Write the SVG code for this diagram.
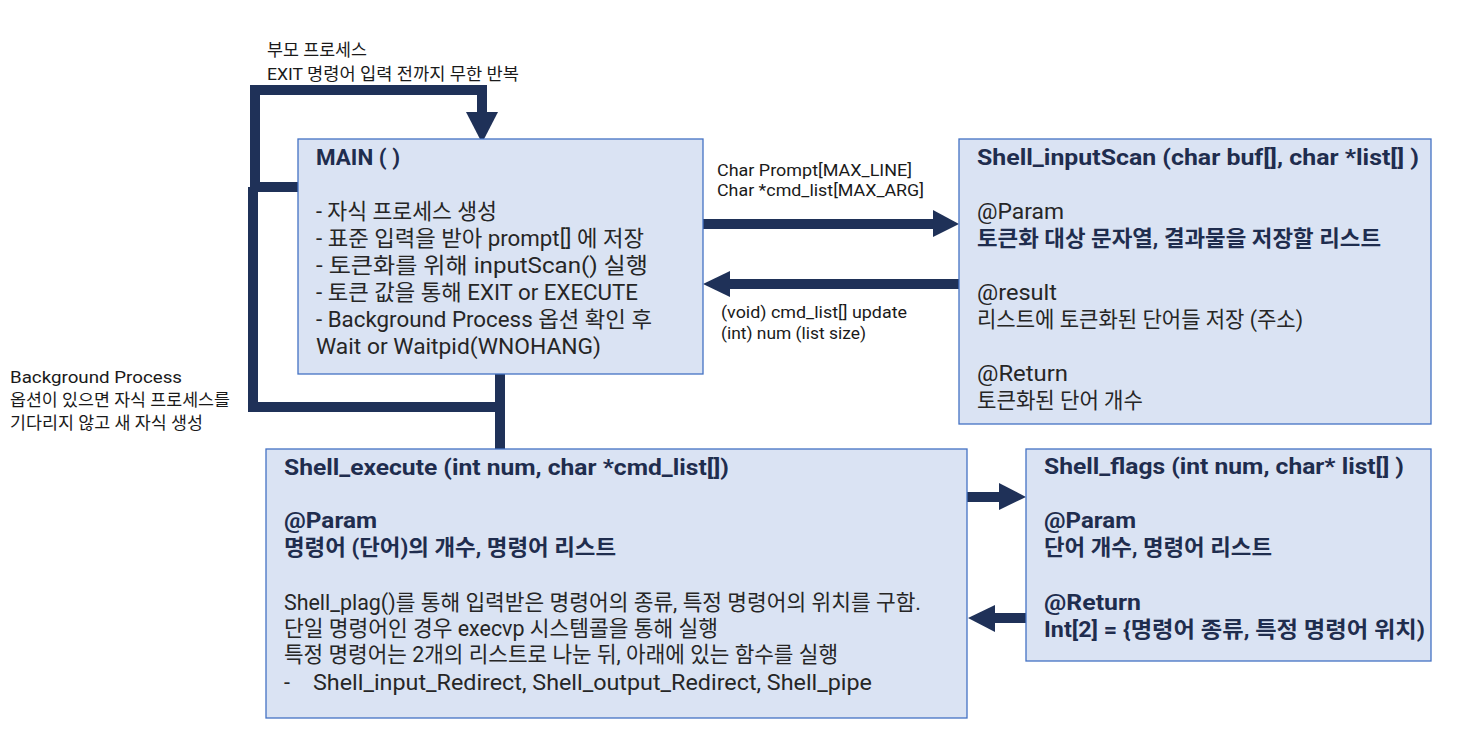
<svg xmlns="http://www.w3.org/2000/svg" width="1463" height="741" viewBox="0 0 1463 741">
<style>
text{font-family:Roboto,"Noto Sans CJK KR",sans-serif;fill:#262626}
.box{fill:#dae3f3;stroke:#4472c4;stroke-width:1.3}
.t{font-size:21.5px}
.b{font-weight:bold;fill:#1f2d4e}
.l{font-size:17px;fill:#1a1a1a}
.c{fill:none;stroke:#1f3158;stroke-width:10}
.h{fill:#1f3158}
</style>
<rect width="1463" height="741" fill="#ffffff"/>
<g id="connectors">
<polyline class="c" points="298,187 255,187 255,90 482,90 482,115"/>
<polygon class="h" points="466,112 498,112 482,143"/>
<polyline class="c" points="500,374 500,407 253,407 253,187"/>
<line class="c" x1="500" y1="407" x2="500" y2="449"/>
<line class="c" x1="703" y1="224" x2="935" y2="224"/>
<polygon class="h" points="933,210 959,224 933,237"/>
<line class="c" x1="959" y1="284" x2="728" y2="284"/>
<polygon class="h" points="730,271 703,284 730,297"/>
<line class="c" x1="967" y1="497" x2="1001" y2="497"/>
<polygon class="h" points="999,483 1026,497 999,510"/>
<line class="c" x1="1026" y1="618" x2="993" y2="618"/>
<polygon class="h" points="995,605 968,618 995,632"/>
</g>
<g id="labels">
<text class="l"><tspan x="267" y="56" textLength="100" lengthAdjust="spacingAndGlyphs">부모 프로세스</tspan><tspan x="267" y="80" textLength="252" lengthAdjust="spacingAndGlyphs">EXIT 명령어 입력 전까지 무한 반복</tspan></text>
<text class="l"><tspan x="717" y="176" textLength="195" lengthAdjust="spacingAndGlyphs">Char Prompt[MAX_LINE]</tspan><tspan x="717" y="196" textLength="207" lengthAdjust="spacingAndGlyphs">Char *cmd_list[MAX_ARG]</tspan></text>
<text class="l"><tspan x="721" y="318" textLength="186" lengthAdjust="spacingAndGlyphs">(void) cmd_list[] update</tspan><tspan x="721" y="339" textLength="145" lengthAdjust="spacingAndGlyphs">(int) num (list size)</tspan></text>
<text class="l"><tspan x="10" y="383" textLength="172" lengthAdjust="spacingAndGlyphs">Background Process</tspan><tspan x="10" y="406" textLength="220" lengthAdjust="spacingAndGlyphs">옵션이 있으면 자식 프로세스를</tspan><tspan x="10" y="429" textLength="193" lengthAdjust="spacingAndGlyphs">기다리지 않고 새 자식 생성</tspan></text>
</g>
<g id="main">
<rect class="box" x="298" y="139" width="405" height="235"/>
<text class="t"><tspan class="b" x="316" y="165" textLength="84" lengthAdjust="spacingAndGlyphs">MAIN ( )</tspan><tspan x="316" y="219" textLength="181" lengthAdjust="spacingAndGlyphs">- 자식 프로세스 생성</tspan><tspan x="316" y="246" textLength="328" lengthAdjust="spacingAndGlyphs">- 표준 입력을 받아 prompt[] 에 저장</tspan><tspan x="316" y="273" textLength="332" lengthAdjust="spacingAndGlyphs">- 토큰화를 위해 inputScan() 실행</tspan><tspan x="316" y="300" textLength="322" lengthAdjust="spacingAndGlyphs">- 토큰 값을 통해 EXIT or EXECUTE</tspan><tspan x="316" y="327" textLength="336" lengthAdjust="spacingAndGlyphs">- Background Process 옵션 확인 후</tspan><tspan x="316" y="354" textLength="285" lengthAdjust="spacingAndGlyphs">Wait or Waitpid(WNOHANG)</tspan></text>
</g>
<g id="inputScan">
<rect class="box" x="959" y="139" width="472" height="285"/>
<text class="t"><tspan class="b" x="977" y="165" textLength="442" lengthAdjust="spacingAndGlyphs">Shell_inputScan (char buf[], char *list[] )</tspan><tspan x="977" y="219" textLength="87" lengthAdjust="spacingAndGlyphs">@Param</tspan><tspan class="b" x="977" y="246" textLength="404" lengthAdjust="spacingAndGlyphs">토큰화 대상 문자열, 결과물을 저장할 리스트</tspan><tspan x="977" y="300" textLength="80" lengthAdjust="spacingAndGlyphs">@result</tspan><tspan x="977" y="327" textLength="326" lengthAdjust="spacingAndGlyphs">리스트에 토큰화된 단어들 저장 (주소)</tspan><tspan x="977" y="381" textLength="91" lengthAdjust="spacingAndGlyphs">@Return</tspan><tspan x="977" y="408" textLength="166" lengthAdjust="spacingAndGlyphs">토큰화된 단어 개수</tspan></text>
</g>
<g id="execute">
<rect class="box" x="266" y="449" width="701" height="269"/>
<text class="t"><tspan class="b" x="284" y="475" textLength="445" lengthAdjust="spacingAndGlyphs">Shell_execute (int num, char *cmd_list[])</tspan><tspan class="b" x="284" y="528" textLength="93" lengthAdjust="spacingAndGlyphs">@Param</tspan><tspan class="b" x="284" y="555" textLength="332" lengthAdjust="spacingAndGlyphs">명령어 (단어)의 개수, 명령어 리스트</tspan><tspan x="284" y="610" textLength="637" lengthAdjust="spacingAndGlyphs">Shell_plag()를 통해 입력받은 명령어의 종류, 특정 명령어의 위치를 구함.</tspan><tspan x="284" y="636" textLength="434" lengthAdjust="spacingAndGlyphs">단일 명령어인 경우 execvp 시스템콜을 통해 실행</tspan><tspan x="284" y="662" textLength="554" lengthAdjust="spacingAndGlyphs">특정 명령어는 2개의 리스트로 나눈 뒤, 아래에 있는 함수를 실행</tspan><tspan x="284" y="690">-</tspan><tspan x="313" y="690" textLength="559" lengthAdjust="spacingAndGlyphs">Shell_input_Redirect, Shell_output_Redirect, Shell_pipe</tspan></text>
</g>
<g id="flags">
<rect class="box" x="1026" y="449" width="405" height="212"/>
<text class="t b"><tspan x="1044" y="474" textLength="360" lengthAdjust="spacingAndGlyphs">Shell_flags (int num, char* list[] )</tspan><tspan x="1044" y="528" textLength="92" lengthAdjust="spacingAndGlyphs">@Param</tspan><tspan x="1044" y="555" textLength="228" lengthAdjust="spacingAndGlyphs">단어 개수, 명령어 리스트</tspan><tspan x="1044" y="610" textLength="97" lengthAdjust="spacingAndGlyphs">@Return</tspan><tspan x="1044" y="637" textLength="381" lengthAdjust="spacingAndGlyphs">Int[2] = {명령어 종류, 특정 명령어 위치)</tspan></text>
</g>
</svg>
